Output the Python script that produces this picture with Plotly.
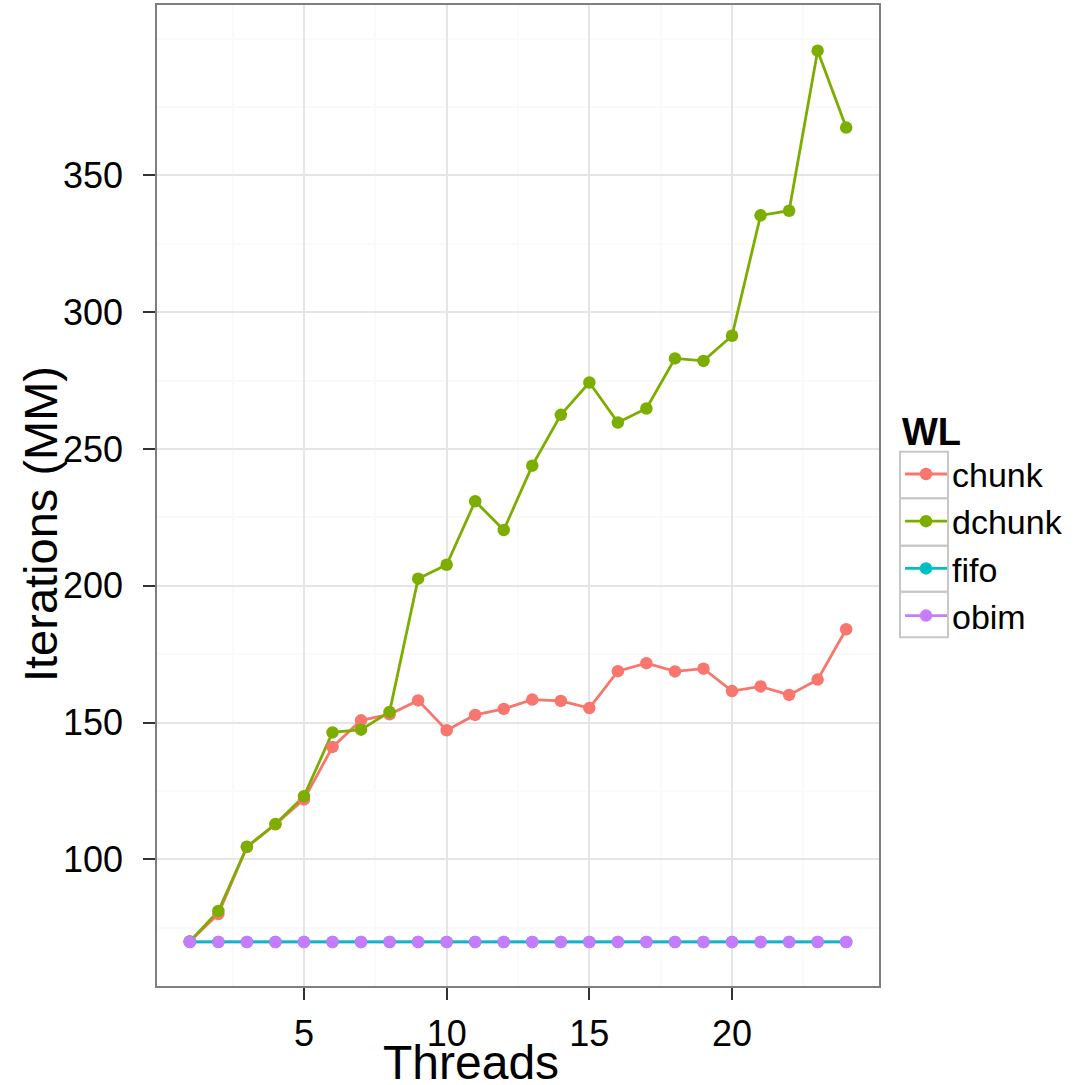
import plotly.graph_objects as go

# Worklist throughput vs. thread count
threads = list(range(1, 25))
series_names = ["chunk", "dchunk", "fifo", "obim"]
chunk = [70.0, 80.0, 104.5, 112.8, 121.9, 141.1, 150.8, 153.0, 158.1, 147.2, 152.8, 155.0,
         158.4, 157.9, 155.3, 168.8, 171.7, 168.7, 169.7, 161.5, 163.2, 160.1, 165.7, 184.1]
dchunk = [70.0, 81.1, 104.6, 112.9, 123.1, 146.4, 147.4, 153.9, 202.6, 207.7, 230.9, 220.4,
          243.9, 262.5, 274.3, 259.7, 264.8, 283.1, 282.2, 291.4, 335.4, 337.1, 395.6, 367.5]
fifo = [69.8, 69.8, 69.8, 69.8, 69.8, 69.8, 69.8, 69.8, 69.8, 69.8, 69.8, 69.8,
        69.8, 69.8, 69.8, 69.8, 69.8, 69.8, 69.8, 69.8, 69.8, 69.8, 69.8, 69.8]
obim = [69.8, 69.8, 69.8, 69.8, 69.8, 69.8, 69.8, 69.8, 69.8, 69.8, 69.8, 69.8,
        69.8, 69.8, 69.8, 69.8, 69.8, 69.8, 69.8, 69.8, 69.8, 69.8, 69.8, 69.8]

x_ticks = [5, 10, 15, 20]
y_ticks = [100, 150, 200, 250, 300, 350]
x_minor = [2.5, 7.5, 12.5, 17.5, 22.5]
y_minor = [75, 125, 175, 225, 275, 325, 375, 400]

values = {"chunk": chunk, "dchunk": dchunk, "fifo": fifo, "obim": obim}
colors = {"chunk": "#F8766D", "dchunk": "#7CAE00", "fifo": "#00BFC4", "obim": "#C77CFF"}

W, H = 1087, 1085
ML, MR, MT, MB = 157, 208, 5, 99
PW, PH = W - ML - MR, H - MT - MB


def px_x(p):
    return (p - ML) / PW


def px_y(p):
    return (H - MB - p) / PH


FONT = "Liberation Sans, Arial, Helvetica, sans-serif"
LW = 2.8
MS = 12.5

fig = go.Figure()

# line layer (all series), then point layer on top
for name in ["chunk", "dchunk", "obim", "fifo"]:
    fig.add_trace(go.Scatter(x=threads, y=values[name], mode="lines",
                             line=dict(color=colors[name], width=LW),
                             showlegend=False, hoverinfo="skip"))
for name in series_names:
    fig.add_trace(go.Scatter(x=threads, y=values[name], mode="markers",
                             marker=dict(color=colors[name], size=MS),
                             name=name, showlegend=False))
# legend entries
for name in series_names:
    fig.add_trace(go.Scatter(x=[None], y=[None], mode="lines+markers", name=name,
                             line=dict(color=colors[name], width=LW),
                             marker=dict(color=colors[name], size=MS)))

# legend key boxes
key_edges = [451.7, 498.3, 545.7, 591.7, 637.3]
shapes = []
for i in range(4):
    shapes.append(dict(type="rect", xref="paper", yref="paper",
                       x0=px_x(900), x1=px_x(948),
                       y0=px_y(key_edges[i + 1]), y1=px_y(key_edges[i]),
                       line=dict(color="#C8C8C8", width=2),
                       fillcolor="rgba(0,0,0,0)", layer="above"))

axis_common = dict(
    showgrid=True, gridcolor="#E5E5E5", gridwidth=2,
    zeroline=False, showline=True, mirror=True, linecolor="#7F7F7F", linewidth=1.5,
    ticks="outside", ticklen=12, tickwidth=1.5, tickcolor="#333333",
    tickfont=dict(family=FONT, size=36, color="black"),
)

fig.update_layout(
    width=W, height=H,
    margin=dict(l=ML, r=MR, t=MT, b=MB, autoexpand=False),
    paper_bgcolor="white", plot_bgcolor="white",
    font=dict(family=FONT, color="black"),
    xaxis=dict(range=[-0.15, 25.15], tickmode="array", tickvals=x_ticks,
               ticklabelstandoff=3,
               minor=dict(tickmode="array", tickvals=x_minor, showgrid=True,
                          gridcolor="#FAFAFA", gridwidth=1.5, ticks=""),
               **axis_common),
    yaxis=dict(range=[53.7, 412.3], tickmode="array", tickvals=y_ticks,
               ticklabelstandoff=13,
               minor=dict(tickmode="array", tickvals=y_minor, showgrid=True,
                          gridcolor="#FAFAFA", gridwidth=1.5, ticks=""),
               **axis_common),
    legend=dict(
        title=dict(text="<b>WL</b>", font=dict(family=FONT, size=38, color="black")),
        font=dict(family=FONT, size=34, color="black"),
        x=px_x(900), y=px_y(396), xanchor="left", yanchor="top",
        bgcolor="rgba(0,0,0,0)", tracegroupgap=0, itemwidth=42,
    ),
    shapes=shapes,
    annotations=[
        dict(text="Threads", xref="paper", yref="paper", x=px_x(471), y=px_y(1062),
             xanchor="center", yanchor="middle", showarrow=False,
             font=dict(family=FONT, size=48, color="black")),
        dict(text="Iterations (MM)", xref="paper", yref="paper", x=px_x(40), y=px_y(524),
             xanchor="center", yanchor="middle", textangle=-90, showarrow=False,
             font=dict(family=FONT, size=47, color="black")),
    ],
)

fig.write_html("out.html")
